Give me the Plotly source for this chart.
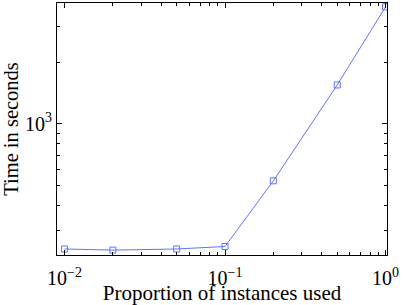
import plotly.graph_objects as go

# Data
proportion = [0.01, 0.02, 0.05, 0.1, 0.2, 0.5, 1.0]
time_sec = [244, 241, 244, 251, 526, 1549, 3733]

x_major = [0.01, 0.1, 1]
x_major_text = ["10<sup>−2</sup>", "10<sup>−1</sup>", "10<sup>0</sup>"]
x_minor = [0.02, 0.03, 0.04, 0.05, 0.06, 0.07, 0.08, 0.09,
           0.2, 0.3, 0.4, 0.5, 0.6, 0.7, 0.8, 0.9]
y_major = [1000]
y_major_text = ["10<sup>3</sup>"]
y_minor = [300, 400, 500, 600, 700, 800, 900, 2000, 3000]

blue = "rgb(95,115,255)"
font_family = "Liberation Serif, Times New Roman, serif"

fig = go.Figure()
fig.add_trace(go.Scatter(
    x=proportion, y=time_sec, mode="lines+markers",
    line=dict(color=blue, width=1),
    marker=dict(symbol="square-open", size=6, color=blue, line=dict(width=1, color=blue)),
    showlegend=False,
))

axis_common = dict(
    showline=True, linecolor="black", linewidth=1, mirror="ticks",
    ticks="inside", ticklen=5, tickcolor="black", tickwidth=1,
    showgrid=False, zeroline=False, automargin=False,
    tickfont=dict(family=font_family, size=20, color="black"),
)

fig.update_xaxes(
    type="log", range=[-2.047, 0.009],
    tickmode="array", tickvals=x_major, ticktext=x_major_text,
    minor=dict(tickmode="array", tickvals=x_minor, ticks="inside", ticklen=3,
               tickcolor="black", tickwidth=1, showgrid=False),
    ticklabelstandoff=5,
    title=dict(text="Proportion of instances used",
               font=dict(family=font_family, size=21, color="black"), standoff=0),
    **axis_common,
)
fig.update_yaxes(
    type="log", range=[2.358, 3.591],
    tickmode="array", tickvals=y_major, ticktext=y_major_text,
    minor=dict(tickmode="array", tickvals=y_minor, ticks="inside", ticklen=3,
               tickcolor="black", tickwidth=1, showgrid=False),
    title=dict(text="Time in seconds",
               font=dict(family=font_family, size=20.5, color="black"), standoff=4),
    **axis_common,
)

fig.update_layout(
    width=403, height=305,
    margin=dict(l=57, r=16, t=3, b=50),
    paper_bgcolor="white", plot_bgcolor="white",
)

fig.write_html("out.html", config={"displayModeBar": False},
               post_script="document.body.style.margin='0';")
